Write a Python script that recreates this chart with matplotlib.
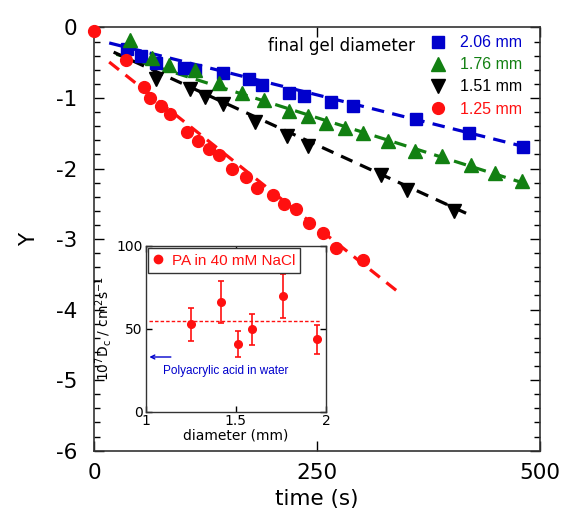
import numpy as np
import matplotlib
matplotlib.use("Agg")
import matplotlib.pyplot as plt
from matplotlib.ticker import MultipleLocator
from matplotlib.lines import Line2D

plt.rcParams['font.family'] = ['DejaVu Sans']
plt.rcParams['lines.scale_dashes'] = False
plt.rcParams['axes.unicode_minus'] = False

# ---- main data: Y vs time for four gel diameters ----
t_206 = [37, 53, 70, 101, 113, 145, 174, 188, 219, 235, 266, 290, 361, 420, 481]
y_206 = [-0.30, -0.40, -0.50, -0.57, -0.60, -0.65, -0.73, -0.82, -0.93, -0.97, -1.05, -1.11, -1.30, -1.50, -1.69]

t_176 = [40, 65, 84, 113, 140, 166, 190, 219, 240, 260, 281, 301, 330, 360, 390, 423, 450, 480]
y_176 = [-0.18, -0.44, -0.53, -0.61, -0.79, -0.93, -1.03, -1.19, -1.26, -1.36, -1.42, -1.49, -1.61, -1.75, -1.82, -1.95, -2.07, -2.18]

t_151 = [70, 108, 124, 145, 180, 216, 240, 322, 351, 404]
y_151 = [-0.73, -0.87, -0.98, -1.08, -1.34, -1.54, -1.68, -2.09, -2.30, -2.60]

t_125 = [0, 36, 56, 63, 75, 85, 104, 117, 129, 140, 155, 170, 183, 201, 213, 226, 241, 257, 271, 301]
y_125 = [-0.05, -0.46, -0.85, -1.00, -1.12, -1.22, -1.48, -1.61, -1.73, -1.81, -2.01, -2.12, -2.28, -2.38, -2.50, -2.58, -2.77, -2.92, -3.13, -3.29]

labels = ["2.06 mm", "1.76 mm", "1.51 mm", "1.25 mm"]
colors = ["#0000cc", "#128012", "#000000", "#ff1010"]
markers = ["s", "^", "v", "o"]
msizes = [8.5, 9.5, 9.5, 8.5]

# linear fits: slope, intercept, start, end (s)
fit_slope = [-0.00316, -0.00400, -0.00578, -0.01006]
fit_icpt = [-0.166, -0.28, -0.223, -0.319]
fit_t0 = [17, 25, 22, 17]
fit_t1 = [485, 485, 425, 340]

# ---- inset data ----
diam = [1.25, 1.42, 1.51, 1.59, 1.76, 1.95]
Dc = [52.7, 66.2, 40.8, 49.7, 69.8, 43.7]
Dc_err = [10.0, 12.4, 7.7, 9.5, 13.2, 8.7]
Dc_mean = 54.7
Dc_water = 33.0

fig = plt.figure(figsize=(5.61, 5.13), dpi=100)
ax = fig.add_axes([0.1676, 0.1215, 0.795, 0.825])

series_t = [t_206, t_176, t_151, t_125]
series_y = [y_206, y_176, y_151, y_125]
handles = []
for i in range(4):
    tt = np.linspace(fit_t0[i], fit_t1[i], 2)
    ax.plot(tt, fit_icpt[i] + fit_slope[i] * tt, color=colors[i], lw=2.3,
            linestyle=(0, (9, 6)), zorder=2)
    h, = ax.plot(series_t[i], series_y[i], linestyle='none', marker=markers[i],
                 ms=msizes[i], color=colors[i], mec=colors[i], zorder=3, clip_on=False)
    handles.append(h)

ax.set_xlim(0, 500)
ax.set_ylim(-6, 0)
ax.xaxis.set_major_locator(MultipleLocator(250))
ax.yaxis.set_major_locator(MultipleLocator(1))
ax.yaxis.set_minor_locator(MultipleLocator(0.2))
ax.tick_params(which='both', direction='in', top=True, right=True)
ax.tick_params(which='major', length=7, width=1, labelsize=15.5)
ax.tick_params(axis='x', which='major', pad=9)
ax.tick_params(axis='y', which='major', pad=12)
ax.tick_params(which='minor', length=4, width=1)
for sp in ax.spines.values():
    sp.set_linewidth(1.2)
    sp.set_color('#333333')
ax.set_xlabel("time (s)", fontsize=15.5, labelpad=4)
ax.set_ylabel("Y", fontsize=15.5, labelpad=12)

leg = ax.legend(handles, labels, loc='upper left', bbox_to_anchor=(0.738, 0.997),
                frameon=False, handlelength=1.0, handletextpad=0.9,
                labelspacing=0.45, borderaxespad=0,
                prop={'family': 'Liberation Sans', 'size': 11.5})
for txt, c in zip(leg.get_texts(), colors):
    txt.set_color(c)
ax.text(0.389, 0.956, "final gel diameter", transform=ax.transAxes,
        fontsize=12, ha='left', va='center')

# ---- inset ----
ins = fig.add_axes([0.2597, 0.1975, 0.3214, 0.323])
ins.axhline(Dc_mean, xmin=0.02, xmax=0.97, color='#ff1010', lw=1, linestyle=(0, (2.5, 1.5)))
ins.errorbar(diam, Dc, yerr=Dc_err, fmt='o', color='#ff1010', ms=5.5,
             elinewidth=1.2, capsize=2, capthick=1.2)
ins.annotate("", xy=(1.005, Dc_water), xytext=(1.155, Dc_water),
             arrowprops=dict(arrowstyle='->', color='#0000cc', lw=1, mutation_scale=7))
ins.text(1.095, 24.5, "Polyacrylic acid in water", color='#0000cc', fontsize=8.5,
         family='Liberation Sans', ha='left', va='center')
ins.set_xlim(1, 2)
ins.set_ylim(0, 100)
ins.yaxis.set_major_locator(MultipleLocator(50))
ins.set_xticks([1, 1.5, 2])
ins.set_xticklabels(["1", "1.5", "2"])
ins.tick_params(direction='in', top=True, right=True, length=4, width=1,
                labelsize=10, pad=2)
for sp in ins.spines.values():
    sp.set_linewidth(1)
    sp.set_color('#333333')
ins.set_xlabel("diameter (mm)", fontsize=10, labelpad=0)
ins.set_ylabel(r"10$^7$D$_\mathregular{c}$ / cm$^2$s$^{-1}$", fontsize=10, labelpad=2)
dot = Line2D([], [], linestyle='none', marker='o', ms=6, color='#ff1010')
ileg = ins.legend([dot], ["PA in 40 mM NaCl"], loc='upper left', bbox_to_anchor=(0.0, 1.0),
                  borderaxespad=0.15, fancybox=False, edgecolor='#333333', framealpha=1,
                  handlelength=0.6, handletextpad=0.6, borderpad=0.35,
                  prop={'family': 'Liberation Sans', 'size': 11})
ileg.get_frame().set_linewidth(1)
for txt in ileg.get_texts():
    txt.set_color('#ff1010')

fig.savefig("out.png", dpi=100)
